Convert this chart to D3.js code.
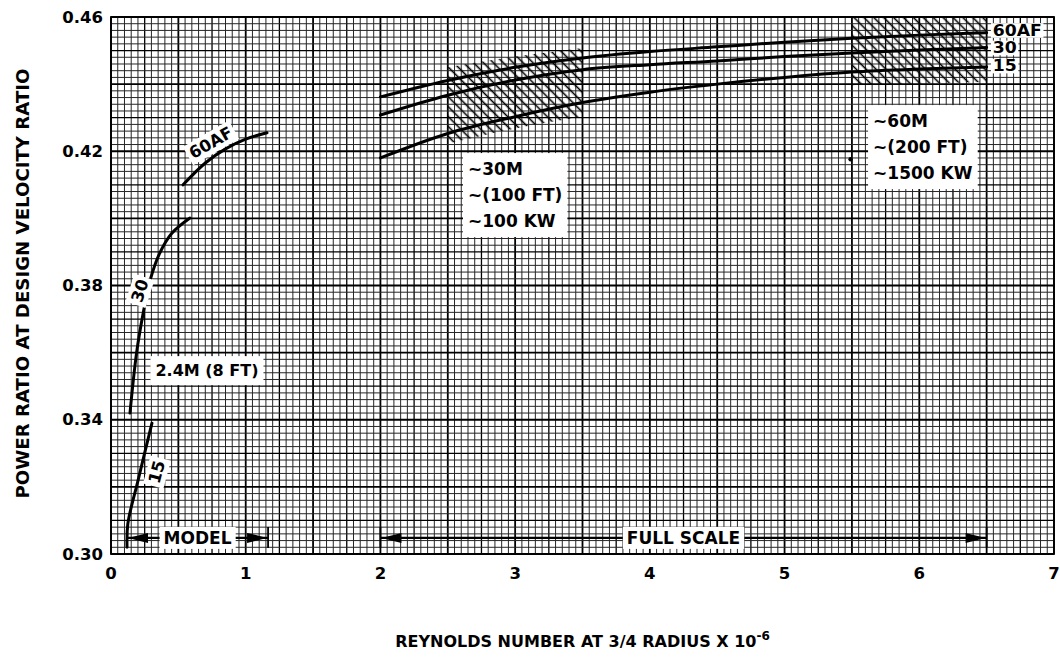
<!DOCTYPE html>
<html>
<head>
<meta charset="utf-8">
<script src="https://cdn.jsdelivr.net/npm/d3@7"></script>
<style>
  html, body { margin: 0; padding: 0; background: #fff; }
  svg text { font-family: "DejaVu Sans", sans-serif; font-weight: bold; fill: #000; }
</style>
</head>
<body>
<svg id="chart" width="1060" height="660"></svg>
<script>
// ---- data -------------------------------------------------------------
const xTickValues = [0, 1, 2, 3, 4, 5, 6, 7];
const yTickValues = [0.30, 0.34, 0.38, 0.42, 0.46];

// full-scale rotors, Reynolds number (x 10^-6)
const fullScaleRe = [2.0, 2.5, 3.0, 3.5, 4.0, 4.5, 5.0, 5.5, 6.0, 6.5];
const full60AF    = [0.4362, 0.4411, 0.4450, 0.4478, 0.4497, 0.4511, 0.4525, 0.4537, 0.4546, 0.4553];
const full30      = [0.4308, 0.4367, 0.4412, 0.4443, 0.4458, 0.4469, 0.4482, 0.4493, 0.4502, 0.4509];
const full15      = [0.4180, 0.4253, 0.4303, 0.4345, 0.4376, 0.4400, 0.4420, 0.4436, 0.4445, 0.4451];
const fullNames   = ["60AF", "30", "15"];
const fullNameLevels = [0.4561, 0.4509, 0.4455];

// 2.4 m model rotor
const model60AFRe = [0.535, 0.70, 0.85, 1.0, 1.158];
const model60AF   = [0.4100, 0.4165, 0.4207, 0.4236, 0.4255];
const model30Re   = [0.141, 0.19, 0.24, 0.29, 0.36, 0.45, 0.586];
const model30     = [0.3420, 0.3600, 0.3720, 0.3815, 0.3895, 0.3955, 0.4001];
const model15Re   = [0.119, 0.125, 0.20, 0.304];
const model15     = [0.3020, 0.3090, 0.3218, 0.3390];

// hatched design bands
const band30mRe     = [2.5, 3.0, 3.5];
const band30mTop    = [0.4450, 0.4482, 0.4508];
const band30mBottom = [0.4222, 0.4268, 0.4302];
const band60mRe     = [5.5, 6.5];
const band60mTop    = [0.46, 0.46];
const band60mBottom = [0.4397, 0.4406];

// ranges
const modelRange = [0.119, 1.166];
const fullRange  = [2.0, 6.5];
const rangeLevel = 0.3048;

const strayPoint = [5.49, 0.4176];

// ---- layout -----------------------------------------------------------
const svg = d3.select("#chart");
const plot = { left: 111, right: 1054, top: 17, bottom: 554 };
const x = d3.scaleLinear().domain([0, 7]).range([plot.left, plot.right]);
const y = d3.scaleLinear().domain([0.30, 0.46]).range([plot.bottom, plot.top]);

svg.append("rect").attr("width", 1060).attr("height", 660).attr("fill", "#fff");

// hatch pattern
const defs = svg.append("defs");
const pat = defs.append("pattern")
  .attr("id", "hatch").attr("patternUnits", "userSpaceOnUse")
  .attr("width", 7).attr("height", 7)
  .attr("patternTransform", "rotate(-45)");
pat.append("line").attr("x1", 3.5).attr("y1", 0).attr("x2", 3.5).attr("y2", 7)
  .attr("stroke", "#000").attr("stroke-width", 1.6);

// ---- graph-paper grid -------------------------------------------------
const grid = svg.append("g");
const xGrid = d3.range(0, 141).map(i => ({ v: i / 20, i }));
const yGrid = d3.range(0, 81).map(i => ({ v: 0.30 + i * 0.002, i }));
function gridStyle(i) {
  if (i % 10 === 0) return { c: "#000", w: 1.8 };
  if (i % 5 === 0) return { c: "#000", w: 1.3 };
  return { c: "#262626", w: 1 };
}
grid.selectAll("line.gx").data(xGrid).join("line")
  .attr("x1", d => x(d.v)).attr("x2", d => x(d.v))
  .attr("y1", plot.top).attr("y2", plot.bottom)
  .attr("stroke", d => gridStyle(d.i).c).attr("stroke-width", d => gridStyle(d.i).w);
grid.selectAll("line.gy").data(yGrid).join("line")
  .attr("x1", plot.left).attr("x2", plot.right)
  .attr("y1", d => y(d.v)).attr("y2", d => y(d.v))
  .attr("stroke", d => gridStyle(d.i).c).attr("stroke-width", d => gridStyle(d.i).w);
svg.append("rect")
  .attr("x", plot.left).attr("y", plot.top)
  .attr("width", plot.right - plot.left).attr("height", plot.bottom - plot.top)
  .attr("fill", "none").attr("stroke", "#000").attr("stroke-width", 1.8);

// ---- hatched bands ----------------------------------------------------
const bandArea = d3.area().x(d => x(d[0])).y0(d => y(d[2])).y1(d => y(d[1])).curve(d3.curveMonotoneX);
function band(re, top, bottom) {
  svg.append("path")
    .attr("d", bandArea(re.map((r, i) => [r, top[i], bottom[i]])))
    .attr("fill", "url(#hatch)");
}
band(band30mRe, band30mTop, band30mBottom);
band(band60mRe, band60mTop, band60mBottom);

// ---- curves -----------------------------------------------------------
function curve(re, vals, w, shape) {
  const line = d3.line().x(d => x(d[0])).y(d => y(d[1])).curve(shape);
  svg.append("path")
    .attr("d", line(re.map((r, i) => [r, vals[i]])))
    .attr("fill", "none").attr("stroke", "#000")
    .attr("stroke-width", w).attr("stroke-linecap", "round");
}
curve(fullScaleRe, full60AF, 3, d3.curveMonotoneX);
curve(fullScaleRe, full30, 3, d3.curveMonotoneX);
curve(fullScaleRe, full15, 3, d3.curveMonotoneX);
curve(model60AFRe, model60AF, 3, d3.curveCatmullRom);
curve(model30Re, model30, 3, d3.curveCatmullRom);
curve(model15Re, model15, 3, d3.curveCatmullRom);

svg.append("circle").attr("cx", x(strayPoint[0])).attr("cy", y(strayPoint[1]))
  .attr("r", 2.2).attr("fill", "#000");

// ---- labels with white backing ----------------------------------------
function boxedText(g, lines, lineGap, size, pad) {
  const t = g.append("g");
  lines.forEach((s, i) => {
    t.append("text").attr("x", 0).attr("y", i * lineGap)
      .attr("font-size", size).text(s);
  });
  const bb = t.node().getBBox();
  g.insert("rect", ":first-child")
    .attr("x", bb.x - pad[0]).attr("y", bb.y - pad[1])
    .attr("width", bb.width + 2 * pad[0]).attr("height", bb.height + 2 * pad[1])
    .attr("fill", "#fff");
  return t;
}

// curve names at the right-hand ends (tightly stacked, slightly widened)
fullNames.forEach((name, i) => {
  const g = svg.append("g")
    .attr("transform", `translate(${x(fullScaleRe[fullScaleRe.length - 1]) + 6},${y(fullNameLevels[i]) + 5.5}) scale(1.15,1)`);
  boxedText(g, [name], 0, 15, [1.5, -1.5]);
});

// rotated curve names on the model curves
function rotatedLabel(s, re, v, angle) {
  const g = svg.append("g").attr("transform", `translate(${x(re)},${y(v)}) rotate(${angle})`);
  const t = g.append("text").attr("font-size", 16.5).attr("text-anchor", "middle")
    .attr("dominant-baseline", "central").text(s);
  const bb = t.node().getBBox();
  g.insert("rect", ":first-child")
    .attr("x", bb.x - 3).attr("y", bb.y - 1).attr("width", bb.width + 6).attr("height", bb.height + 2)
    .attr("fill", "#fff");
}
rotatedLabel("60AF", 0.742, 0.4225, -30);
rotatedLabel("30", 0.215, 0.3784, -72);
rotatedLabel("15", 0.341, 0.3244, -75);

// size notes
boxedText(svg.append("g").attr("transform", `translate(${x(0.33)},${y(0.3530)})`),
  ["2.4M (8 FT)"], 0, 16, [5, 5]);
boxedText(svg.append("g").attr("transform", `translate(${x(2.65)},${y(0.4129)})`),
  ["~30M", "~(100 FT)", "~100 KW"], 26, 17, [5, 6]);
boxedText(svg.append("g").attr("transform", `translate(${x(5.657)},${y(0.4272)})`),
  ["~60M", "~(200 FT)", "~1500 KW"], 26, 17, [5, 6]);

// ---- MODEL / FULL SCALE ranges ----------------------------------------
function rangeArrow(r, label) {
  const g = svg.append("g");
  const x0 = x(r[0]), x1 = x(r[1]), yy = y(rangeLevel);
  g.append("line").attr("x1", x0).attr("x2", x1).attr("y1", yy).attr("y2", yy)
    .attr("stroke", "#000").attr("stroke-width", 2.2);
  [x0, x1].forEach(xx => g.append("line").attr("x1", xx).attr("x2", xx)
    .attr("y1", yy - 11).attr("y2", yy + 10).attr("stroke", "#000").attr("stroke-width", 1.8));
  g.append("path").attr("d", `M${x0 + 1},${yy} L${x0 + 21},${yy - 5} L${x0 + 21},${yy + 5} Z`).attr("fill", "#000");
  g.append("path").attr("d", `M${x1 - 1},${yy} L${x1 - 21},${yy - 5} L${x1 - 21},${yy + 5} Z`).attr("fill", "#000");
  const t = g.append("text").attr("x", (x0 + x1) / 2).attr("y", yy)
    .attr("text-anchor", "middle").attr("dominant-baseline", "central")
    .attr("font-size", 17).text(label);
  const bb = t.node().getBBox();
  g.insert("rect", "text").attr("x", bb.x - 4).attr("y", bb.y - 1)
    .attr("width", bb.width + 8).attr("height", bb.height + 2).attr("fill", "#fff");
}
rangeArrow(modelRange, "MODEL");
rangeArrow(fullRange, "FULL SCALE");

// ---- axes -------------------------------------------------------------
svg.append("g").selectAll("text").data(xTickValues).join("text")
  .attr("x", d => x(d)).attr("y", plot.bottom + 19)
  .attr("text-anchor", "middle").attr("dominant-baseline", "central")
  .attr("font-size", 16.5).text(d => d);
svg.append("g").selectAll("text").data(yTickValues).join("text")
  .attr("x", plot.left - 8).attr("y", d => y(d))
  .attr("text-anchor", "end").attr("dominant-baseline", "central")
  .attr("font-size", 16.5).text(d => d3.format(".2f")(d));

const xTitle = svg.append("text")
  .attr("x", (plot.left + plot.right) / 2).attr("y", 647)
  .attr("text-anchor", "middle").attr("font-size", 16);
xTitle.append("tspan").text("REYNOLDS NUMBER AT 3/4 RADIUS X 10");
xTitle.append("tspan").attr("dy", -7).attr("font-size", 12).text("-6");

svg.append("text")
  .attr("transform", `translate(23,${(plot.top + plot.bottom) / 2 - 2}) rotate(-90)`)
  .attr("text-anchor", "middle").attr("dominant-baseline", "central")
  .attr("font-size", 17).attr("textLength", 430).attr("lengthAdjust", "spacingAndGlyphs")
  .text("POWER RATIO AT DESIGN VELOCITY RATIO");
</script>
</body>
</html>
